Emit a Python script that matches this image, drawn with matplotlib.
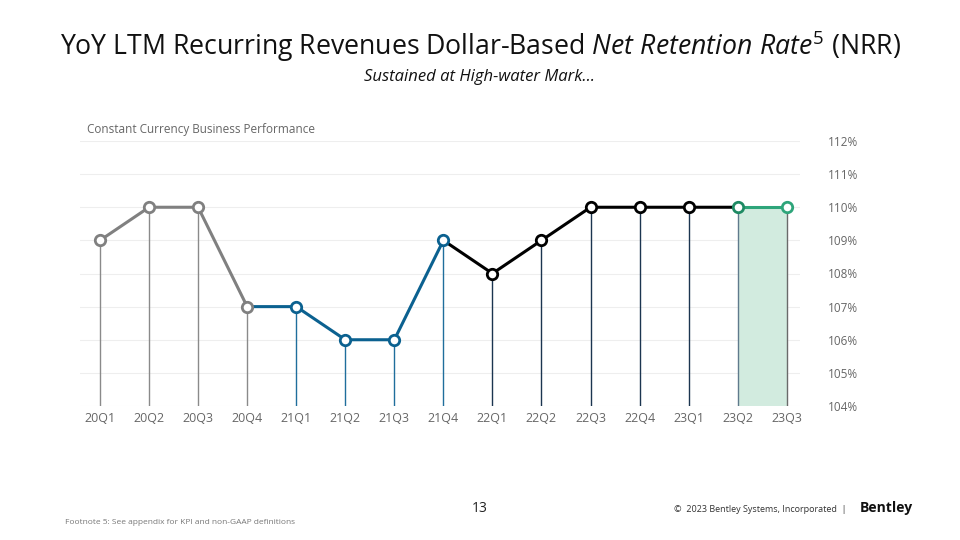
import matplotlib
matplotlib.use("Agg")
import matplotlib.pyplot as plt

plt.rcParams['font.family'] = ['Open Sans', 'DejaVu Sans']
plt.rcParams['mathtext.fontset'] = 'custom'
plt.rcParams['mathtext.rm'] = 'Open Sans'
plt.rcParams['mathtext.it'] = 'Open Sans:italic'

quarters = ["20Q1", "20Q2", "20Q3", "20Q4", "21Q1", "21Q2", "21Q3", "21Q4",
            "22Q1", "22Q2", "22Q3", "22Q4", "23Q1", "23Q2", "23Q3"]
nrr = [109, 110, 110, 107, 107, 106, 106, 109, 108, 109, 110, 110, 110, 110, 110]
yticks = [104, 105, 106, 107, 108, 109, 110, 111, 112]

# segments: (start index, end index inclusive, line colour)
segments = [(0, 3, "#808080"), (3, 7, "#0b6190"), (7, 13, "#000000"), (13, 14, "#2ea57a")]
stem_colors = ["#8a8a8a"] * 4 + ["#1f6e9c"] * 4 + ["#1b3550"] * 5 + ["#5f7a8c", "#6a6a6a"]
marker_edges = ["#808080"] * 4 + ["#0b6190"] * 4 + ["#000000"] * 5 + ["#2ea57a", "#2ea57a"]
marker_edges[13] = "#1e8a63"

fig = plt.figure(figsize=(9.6, 5.4), dpi=100)
ax = fig.add_axes([80/960, 134/540, 720/960, 265/540])

x = list(range(len(quarters)))
ymin = yticks[0]

# green shaded region
ax.fill_between([13, 14], [ymin, ymin], [nrr[13], nrr[14]], color="#d2ebdf", zorder=1, linewidth=0)

# gridlines
for yt in yticks:
    ax.axhline(yt, color="#eeeeee", linewidth=0.8, zorder=0)

# stems
for i in x:
    ax.vlines(i, ymin, nrr[i], color=stem_colors[i], linewidth=1.0, zorder=2)

# lines
for s, e, c in segments:
    ax.plot(x[s:e+1], nrr[s:e+1], color=c, linewidth=2.2, zorder=3, solid_capstyle='round')

# markers
for i in x:
    ax.plot(i, nrr[i], marker='o', markersize=7.5, markerfacecolor='white',
            markeredgecolor=marker_edges[i], markeredgewidth=2.0, zorder=4)

ax.set_xlim(-0.408, 14.27)
ax.set_ylim(104, 112)
ax.set_xticks(x)
ax.set_xticklabels(quarters, fontsize=9, color="#666666")
ax.set_yticks(yticks)
ax.set_yticklabels([f"{v}%" for v in yticks], fontsize=8.5, color="#666666")
ax.yaxis.tick_right()
ax.tick_params(axis='both', length=0)
ax.tick_params(axis='y', pad=20)
ax.tick_params(axis='x', pad=4)
for sp in ax.spines.values():
    sp.set_visible(False)

# texts
fig.text(0.5, 1 - 46/540, r"YoY LTM Recurring Revenues Dollar-Based $\mathit{Net\ Retention\ Rate}^{\mathit{5}}$ (NRR)",
         ha='center', va='center', fontsize=19.2, color="#111111")
fig.text(0.5, 1 - 77/540, "Sustained at High-water Mark…", ha='center', va='center',
         fontsize=12, style='italic', color="#111111")
fig.text(87/960, 1 - 130/540, "Constant Currency Business Performance", ha='left', va='center',
         fontsize=8.5, color="#666666")
fig.text(480/960, 1 - 508/540, "13", ha='center', va='center', fontsize=10, color="#222222")
fig.text(846/960, 1 - 509/540, "©  2023 Bentley Systems, Incorporated  |", ha='right', va='center',
         fontsize=6.5, color="#333333")
fig.text(860/960, 1 - 508/540, "Bentley", ha='left', va='center', fontsize=10,
         fontweight='bold', color="#111111")
fig.text(65/960, 1 - 522/540, "Footnote 5: See appendix for KPI and non-GAAP definitions", ha='left',
         va='center', fontsize=6, color="#777777")

fig.savefig("out.png", dpi=100)
